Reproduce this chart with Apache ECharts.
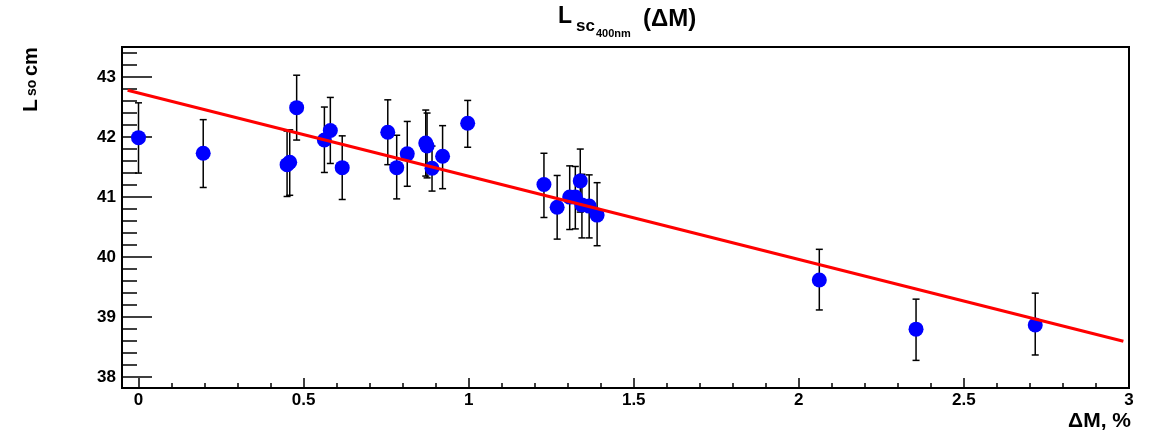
<!DOCTYPE html>
<html>
<head>
<meta charset="utf-8">
<script src="https://cdn.jsdelivr.net/npm/echarts@6.0.0/dist/echarts.min.js"></script>
<style>
html, body { margin: 0; padding: 0; background: #fff; }
#chart { width: 1151px; height: 431px; }
</style>
</head>
<body>
<div id="chart"></div>
<script>
// ΔM (%) of each measurement
var dM = [0.000, 0.196, 0.450, 0.458, 0.479, 0.563, 0.581, 0.617, 0.755, 0.782,
          0.814, 0.870, 0.874, 0.889, 0.921, 0.997, 1.228, 1.268, 1.306, 1.323,
          1.338, 1.343, 1.365, 1.389, 2.062, 2.355, 2.716];
// L_sc (cm)
var Lsc = [41.99, 41.73, 41.54, 41.58, 42.49, 41.95, 42.11, 41.49, 42.08, 41.49,
           41.72, 41.90, 41.85, 41.48, 41.68, 42.23, 41.21, 40.83, 41.00, 41.00,
           41.27, 40.87, 40.85, 40.70, 39.62, 38.80, 38.87];
// error bar ends
var errHi = [42.57, 42.29, 42.10, 42.12, 43.03, 42.50, 42.66, 42.02, 42.62, 42.03,
             42.26, 42.45, 42.40, 41.85, 42.19, 42.61, 41.73, 41.36, 41.52, 41.51,
             41.80, 41.38, 41.37, 41.24, 40.13, 39.30, 39.40];
var errLo = [41.40, 41.16, 41.01, 41.03, 41.95, 41.41, 41.56, 40.96, 41.54, 40.97,
             41.18, 41.35, 41.32, 41.10, 41.14, 41.83, 40.66, 40.30, 40.46, 40.47,
             40.75, 40.32, 40.32, 40.19, 39.12, 38.28, 38.37];
// linear fit, drawn between these two ends
var fitX = [-0.033, 2.983];
var fitY = [42.78, 38.60];

var xTicks = [0, 0.5, 1, 1.5, 2, 2.5, 3];
var yTicks = [38, 39, 40, 41, 42, 43];

// minor ticks: x every 0.1, y every 0.2
var xMinor = [];
for (var i = 1; i < 30; i++) { if (i % 5 != 0) xMinor.push(i / 10); }
var yMinor = [];
for (var j = 190; j <= 217; j++) { if (j % 5 != 0) yMinor.push(j / 5); }

var FONT = '"Liberation Sans", Arial, Helvetica, sans-serif';
var black = '#000';

var chart = echarts.init(document.getElementById('chart'));

function errorBars(params, api) {
    var top = api.coord([api.value(0), api.value(1)]);
    var bot = api.coord([api.value(0), api.value(2)]);
    var cap = 3.5;
    var st = { stroke: black, lineWidth: 1.5 };
    return {
        type: 'group',
        children: [
            { type: 'line', shape: { x1: top[0], y1: top[1], x2: bot[0], y2: bot[1] }, style: st },
            { type: 'line', shape: { x1: top[0] - cap, y1: top[1], x2: top[0] + cap, y2: top[1] }, style: st },
            { type: 'line', shape: { x1: bot[0] - cap, y1: bot[1], x2: bot[0] + cap, y2: bot[1] }, style: st }
        ]
    };
}

var option = {
    animation: false,
    backgroundColor: '#fff',
    grid: {
        left: 122, right: 22, top: 47, bottom: 43,
        show: true, borderColor: black, borderWidth: 2, backgroundColor: 'transparent'
    },
    xAxis: [
        {
            type: 'value', min: -0.05, max: 3, position: 'bottom',
            axisLine: { show: true, onZero: false, lineStyle: { color: black, width: 2 } },
            axisTick: { show: true, inside: true, length: 10, customValues: xTicks, lineStyle: { color: black, width: 1.5 } },
            axisLabel: { customValues: xTicks, margin: 4, color: black, fontFamily: FONT, fontWeight: 'bold', fontSize: 17 },
            splitLine: { show: false }
        },
        {
            type: 'value', min: -0.05, max: 3, position: 'bottom',
            axisLine: { show: false, onZero: false },
            axisTick: { show: true, inside: true, length: 5, customValues: xMinor, lineStyle: { color: black, width: 1.5 } },
            axisLabel: { show: false },
            splitLine: { show: false }
        }
    ],
    yAxis: [
        {
            type: 'value', min: 37.82, max: 43.5, position: 'left',
            axisLine: { show: true, onZero: false, lineStyle: { color: black, width: 2 } },
            axisTick: { show: true, inside: true, length: 30, customValues: yTicks, lineStyle: { color: black, width: 1.5 } },
            axisLabel: { customValues: yTicks, margin: 6, color: black, fontFamily: FONT, fontWeight: 'bold', fontSize: 17 },
            splitLine: { show: false }
        },
        {
            type: 'value', min: 37.82, max: 43.5, position: 'left',
            axisLine: { show: false, onZero: false },
            axisTick: { show: true, inside: true, length: 15, customValues: yMinor, lineStyle: { color: black, width: 1.5 } },
            axisLabel: { show: false },
            splitLine: { show: false }
        }
    ],
    series: [
        {
            type: 'custom',
            xAxisIndex: 0, yAxisIndex: 0,
            renderItem: errorBars,
            encode: { x: 0, y: [1, 2] },
            data: dM.map(function (x, i) { return [x, errHi[i], errLo[i]]; }),
            z: 2
        },
        {
            type: 'scatter',
            xAxisIndex: 0, yAxisIndex: 0,
            symbol: 'circle', symbolSize: 15,
            itemStyle: { color: '#0000ff', opacity: 1 },
            data: dM.map(function (x, i) { return [x, Lsc[i]]; }),
            z: 3
        },
        {
            type: 'line',
            xAxisIndex: 0, yAxisIndex: 0,
            showSymbol: false,
            lineStyle: { color: '#ff0000', width: 3 },
            data: fitX.map(function (x, i) { return [x, fitY[i]]; }),
            z: 4
        }
    ],
    graphic: [
        // title: L_{sc_{400nm}} (ΔM)
        { type: 'text', x: 558, y: 17, style: { text: 'L', font: 'bold 23px ' + FONT, fill: black, align: 'left', verticalAlign: 'middle' } },
        { type: 'text', x: 576, y: 26, style: { text: 'sc', font: 'bold 17px ' + FONT, fill: black, align: 'left', verticalAlign: 'middle' } },
        { type: 'text', x: 596, y: 34, style: { text: '400nm', font: 'bold 11px ' + FONT, fill: black, align: 'left', verticalAlign: 'middle' } },
        { type: 'text', x: 643, y: 19, style: { text: '(\u0394M)', font: 'bold 24px ' + FONT, fill: black, align: 'left', verticalAlign: 'middle' } },
        // y axis title: L_so cm
        { type: 'text', x: 31, y: 112, rotation: Math.PI / 2, style: { text: 'L', font: 'bold 21px ' + FONT, fill: black, align: 'left', verticalAlign: 'middle' } },
        { type: 'text', x: 32, y: 96, rotation: Math.PI / 2, style: { text: 'so', font: 'bold 14px ' + FONT, fill: black, align: 'left', verticalAlign: 'middle' } },
        { type: 'text', x: 31, y: 76, rotation: Math.PI / 2, style: { text: 'cm', font: 'bold 20px ' + FONT, fill: black, align: 'left', verticalAlign: 'middle' } },
        // x axis title
        { type: 'text', x: 1131, y: 421, style: { text: '\u0394M, %', font: 'bold 21px ' + FONT, fill: black, align: 'right', verticalAlign: 'middle' } }
    ]
};

chart.setOption(option);
</script>
</body>
</html>
